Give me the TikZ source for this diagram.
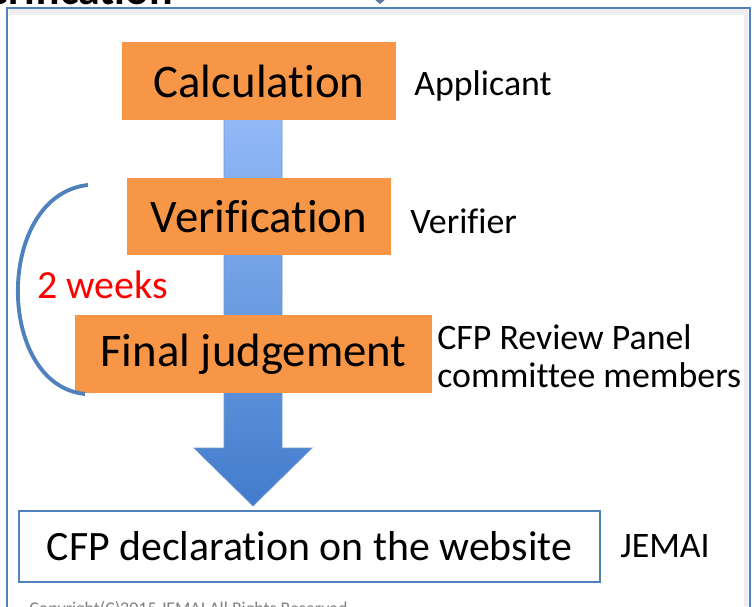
\documentclass[tikz,border=0pt]{standalone}
\usepackage{fontspec}
\setmainfont[Ligatures=NoCommon]{Carlito}
\usepackage{tikz}
\definecolor{boxorange}{RGB}{247,150,70}
\definecolor{frameblue}{RGB}{79,129,189}
\definecolor{arrowtop}{RGB}{150,188,248}
\definecolor{arrowbottom}{RGB}{66,124,204}
\definecolor{tipgray}{RGB}{90,120,160}

\begin{document}
\begin{tikzpicture}[x=0.02cm,y=-0.02cm,
  stepbox/.style={fill=boxorange, inner sep=0, font=\fontsize{26.6}{32}\selectfont},
  rolelabel/.style={anchor=base west, inner sep=0, font=\fontsize{20.4}{21.5}\selectfont}]
\useasboundingbox (0,0) rectangle (754,606);
% Draw the outer frame with its shadow
\fill[white] (0,0) rectangle (754,606);
\draw[black!7, line width=3pt] (9,12) -- (747,12);
\draw[black!7, line width=2pt] (746,12) -- (746,606);
\draw[frameblue, line width=1.2pt] (7,640) -- (7,8) -- (750,8) -- (750,640);
% Arrow tip and title cut by the top edge
\fill[tipgray] (373,-2) -- (387,-2) -- (380,4) -- cycle;
\node[anchor=base east, inner sep=0, font=\fontsize{25}{30}\selectfont\bfseries] (title) at (173,4) {Verification};
% Draw the big arrow behind the steps
\shade[top color=arrowtop, bottom color=arrowbottom, draw=frameblue!80, line width=0.4pt]
  (224,100) -- (224,448) -- (194,448) -- (253,506) -- (312,448) -- (282,448) -- (282,100) -- cycle;
% Steps
\node[stepbox, minimum width=5.48cm, minimum height=1.56cm] (calc) at (259,81) {Calculation};
\node[stepbox, minimum width=5.28cm, minimum height=1.54cm] (verif) at (259,216.5) {Verification};
\node[stepbox, minimum width=7.14cm, minimum height=1.56cm] (judge) at (253.5,354) {Final judgement};
\node[draw=frameblue, line width=0.85pt, fill=white, inner sep=0, minimum width=11.62cm, minimum height=1.42cm,
  font=\fontsize{23.8}{28}\selectfont] (decl) at (309.5,546.5) {CFP declaration on the website};
% Who does each step
\node[rolelabel] (applicant) at (414,95) {Applicant};
\node[rolelabel] (verifier) at (410,233) {Verifier};
\node[rolelabel, align=left] (panel) at (437,387) {CFP Review Panel\\committee members};
\node[rolelabel] (jemai) at (620,557) {JEMAI};
% Bracket for the period
\coordinate (brtop) at (88,185);
\coordinate (brbot) at (85,394);
\draw[frameblue, line width=2.2pt] (brtop) .. controls (-5,195) and (-5,385) .. (brbot);
\node[anchor=base west, inner sep=0, text=red, font=\fontsize{22.7}{27}\selectfont] (weeks) at (37,298) {2 weeks};
% Footer cut by the bottom edge
\node[anchor=base west, inner sep=0, text=gray, font=\fontsize{10.2}{12}\selectfont] (copy) at (29,614) {Copyright(C)2015 JEMAI All Rights Reserved};
\end{tikzpicture}
\end{document}
